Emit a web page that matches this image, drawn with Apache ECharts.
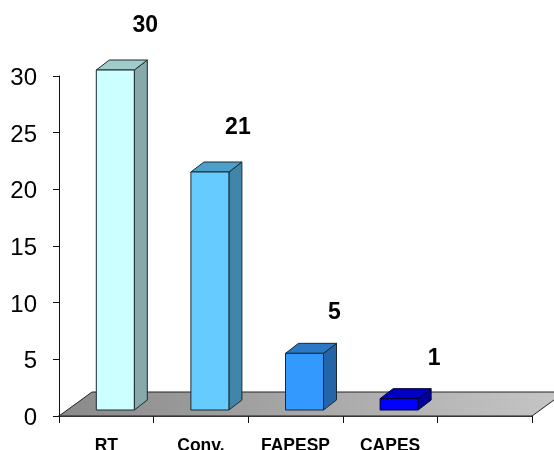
<!DOCTYPE html>
<html>
<head>
<meta charset="utf-8">
<style>html,body{margin:0;padding:0;background:#fff}#chart{width:554px;height:450px}</style>
<script src="https://cdn.jsdelivr.net/npm/echarts@6/dist/echarts.min.js"></script>
</head>
<body>
<div id="chart"></div>
<script>
const categories = ['RT', 'Conv.', 'FAPESP', 'CAPES', ''];
const values = [30, 21, 5, 1];
const frontColors = ['#ccffff', '#66ccff', '#3399ff', '#0000ff'];
const topColors = ['#a0cccc', '#4f9fcb', '#2a78c6', '#0000c4'];
const sideColors = ['#87a9a9', '#4285ab', '#2365a8', '#00009c'];

// Oblique projection used for the floor and the bar bodies
const floorDepth = { x: 33, y: -24 };
const barDepth = { x: 13, y: -10 };
const barLift = { x: 9, y: -6 };
const barWidth = 38;
const edge = { stroke: '#1c2a2e', lineWidth: 1, lineJoin: 'round' };

// Hand-placed nudges for the value captions, relative to each bar's top
const captionShift = [[39, -50], [37, -50], [39, -47], [44, -46]];

function poly(points, fill, stroke) {
  return {
    type: 'polygon',
    shape: { points },
    style: { fill, stroke: stroke || edge.stroke, lineWidth: edge.lineWidth, lineJoin: 'round' }
  };
}

function renderFloor(params, api) {
  if (params.dataIndex !== 0) return null;
  const band = api.size([1, 0])[0];
  const a = api.coord([0, 0]);
  const left = a[0] - band / 2;
  const right = left + band * categories.length;
  const y = a[1];
  return {
    type: 'polygon',
    silent: true,
    shape: {
      points: [
        [left, y],
        [right, y],
        [right + floorDepth.x, y + floorDepth.y],
        [left + floorDepth.x, y + floorDepth.y]
      ]
    },
    style: {
      fill: {
        type: 'linear', x: 0, y: 0, x2: 1, y2: 0,
        colorStops: [
          { offset: 0, color: '#8a8a8a' },
          { offset: 1, color: '#c6c6c6' }
        ]
      },
      stroke: '#222',
      lineWidth: 1
    }
  };
}

function renderBar(params, api) {
  const i = params.dataIndex;
  const c = api.coord([api.value(0), api.value(1)]);
  const base = api.coord([api.value(0), 0]);
  const l = c[0] + barLift.x - barWidth / 2;
  const r = l + barWidth;
  const t = c[1] + barLift.y;
  const b = base[1] + barLift.y;
  const dx = barDepth.x, dy = barDepth.y;
  const dark = i === 3 ? '#000033' : edge.stroke;
  return {
    type: 'group',
    children: [
      poly([[r, t], [r + dx, t + dy], [r + dx, b + dy], [r, b]], sideColors[i], dark),
      poly([[l, t], [l + dx, t + dy], [r + dx, t + dy], [r, t]], topColors[i], dark),
      poly([[l, t], [r, t], [r, b], [l, b]], frontColors[i], dark),
      {
        type: 'text',
        style: {
          x: c[0] + captionShift[i][0],
          y: c[1] + captionShift[i][1],
          text: String(api.value(1)),
          fill: '#000',
          font: 'bold 23px "Liberation Sans", Arial, sans-serif',
          align: 'center',
          verticalAlign: 'middle'
        }
      }
    ]
  };
}

const chart = echarts.init(document.getElementById('chart'), null, { renderer: 'canvas' });
chart.setOption({
  animation: false,
  backgroundColor: '#ffffff',
  grid: { left: 59, right: 22, top: 76, bottom: 34, containLabel: false, outerBoundsMode: 'none' },
  xAxis: {
    type: 'category',
    data: categories,
    boundaryGap: true,
    axisLine: { show: true, lineStyle: { color: '#111', width: 1.5 } },
    axisTick: { show: true, alignWithLabel: false, length: 7, lineStyle: { color: '#111' } },
    axisLabel: {
      interval: 0,
      margin: 21,
      color: '#000',
      fontFamily: '"Liberation Sans", Arial, sans-serif',
      fontWeight: 'bold',
      fontSize: 17.5
    },
    splitLine: { show: false }
  },
  yAxis: {
    type: 'value',
    min: 0,
    max: 30,
    interval: 5,
    axisLine: { show: true, lineStyle: { color: '#111', width: 1 } },
    axisTick: { show: true, length: 6, lineStyle: { color: '#111' } },
    axisLabel: {
      margin: 22,
      verticalAlign: 'top',
      lineHeight: 5,
      color: '#000',
      fontFamily: '"Liberation Sans", Arial, sans-serif',
      fontSize: 24
    },
    splitLine: { show: false }
  },
  series: [
    {
      type: 'custom',
      coordinateSystem: 'cartesian2d',
      clip: false,
      z: 1,
      renderItem: renderFloor,
      data: values.map((v, i) => [i, v])
    },
    {
      type: 'custom',
      coordinateSystem: 'cartesian2d',
      clip: false,
      z: 3,
      renderItem: renderBar,
      data: values.map((v, i) => [i, v])
    }
  ]
});
</script>
</body>
</html>
